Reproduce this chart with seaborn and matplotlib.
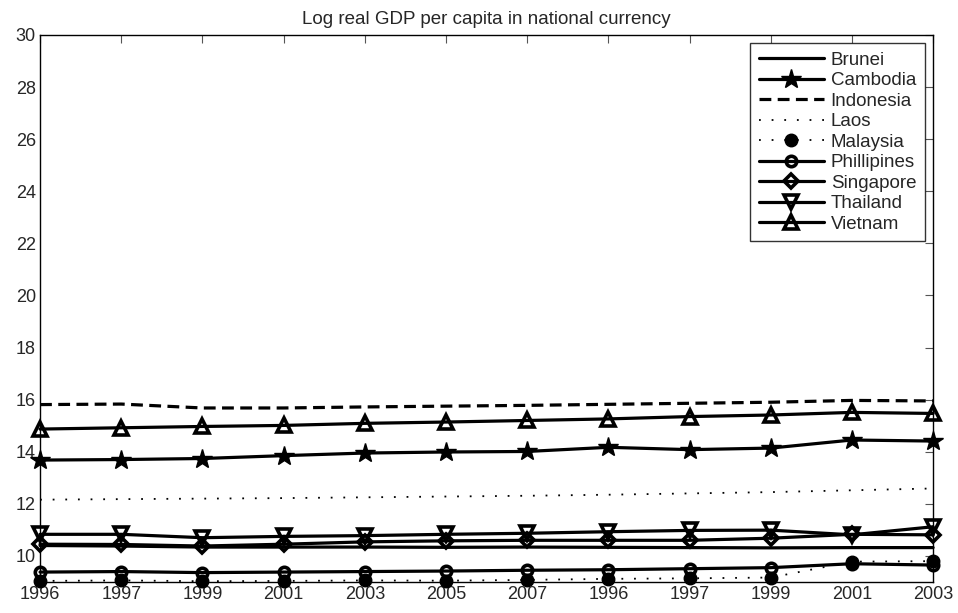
import numpy as np
import pandas as pd
import seaborn as sns
import matplotlib
matplotlib.use("Agg")
import matplotlib.pyplot as plt

# ----------------------------
# DATA
# ----------------------------
year_labels = ["1996", "1997", "1999", "2001", "2003", "2005", "2007",
               "1996", "1997", "1999", "2001", "2003"]

brunei      = [10.40, 10.38, 10.34, 10.34, 10.34, 10.33, 10.34, 10.33, 10.32, 10.31, 10.32, 10.32]
cambodia    = [13.68, 13.70, 13.74, 13.85, 13.95, 13.99, 14.01, 14.17, 14.08, 14.14, 14.45, 14.41]
indonesia   = [15.81, 15.83, 15.68, 15.68, 15.72, 15.75, 15.78, 15.82, 15.86, 15.90, 15.97, 15.95]
laos        = [12.16, 12.18, 12.20, 12.22, 12.25, 12.28, 12.31, 12.35, 12.40, 12.45, 12.52, 12.59]
malaysia    = [9.04, 9.06, 9.03, 9.04, 9.06, 9.05, 9.08, 9.12, 9.14, 9.17, 9.78, 9.80]
phillipines = [9.38, 9.40, 9.36, 9.38, 9.40, 9.42, 9.45, 9.47, 9.51, 9.55, 9.70, 9.65]
singapore   = [10.45, 10.44, 10.38, 10.45, 10.54, 10.58, 10.60, 10.60, 10.60, 10.68, 10.83, 10.81]
thailand    = [10.83, 10.83, 10.70, 10.75, 10.78, 10.83, 10.87, 10.93, 10.98, 10.99, 10.81, 11.12]
vietnam     = [14.87, 14.92, 14.97, 15.01, 15.09, 15.14, 15.20, 15.26, 15.35, 15.41, 15.51, 15.47]

countries = ["Brunei", "Cambodia", "Indonesia", "Laos", "Malaysia",
             "Phillipines", "Singapore", "Thailand", "Vietnam"]
series = [brunei, cambodia, indonesia, laos, malaysia,
          phillipines, singapore, thailand, vietnam]

# style per country: (marker, linestyle, linewidth, marker fill)
styles = {
    "Brunei":      (None, "-", 2.3, "full"),
    "Cambodia":    ("*", "-", 2.3, "full"),
    "Indonesia":   (None, (0, (3.7, 2.0)), 2.3, "full"),
    "Laos":        (None, (0, (1, 6)), 1.3, "full"),
    "Malaysia":    ("o", (0, (1, 6)), 1.3, "full"),
    "Phillipines": ("o", "-", 2.3, "none"),
    "Singapore":   ("D", "-", 2.3, "none"),
    "Thailand":    ("v", "-", 2.3, "none"),
    "Vietnam":     ("^", "-", 2.3, "none"),
}
msizes = {"Cambodia": 15, "Malaysia": 9, "Phillipines": 7.5,
          "Singapore": 7, "Thailand": 10.5, "Vietnam": 10.5}

df = pd.DataFrame({"pos": np.tile(np.arange(len(year_labels)), len(countries)),
                   "value": np.concatenate(series),
                   "country": np.repeat(countries, len(year_labels))})

# ----------------------------
# PLOT
# ----------------------------
sns.set_style("white")
plt.rcParams["font.family"] = ["Liberation Sans", "DejaVu Sans"]

fig = plt.figure(figsize=(9.58, 6.13), dpi=100)
ax = fig.add_axes([0.0418, 0.0506, 0.9322, 0.8924])

for c in countries:
    m, ls, lw, fill = styles[c]
    sub = df[df["country"] == c]
    kw = dict(color="black", linewidth=lw, linestyle=ls, label=c, clip_on=False)
    if m is not None:
        kw.update(marker=m, markersize=msizes[c],
                  markeredgewidth=2.6 if fill == "none" else 1.0,
                  markerfacecolor="black" if fill == "full" else "none",
                  markeredgecolor="black")
    sns.lineplot(data=sub, x="pos", y="value", ax=ax, **kw)

ax.set_xlim(0, len(year_labels) - 1)
ax.set_ylim(9, 30)
ax.set_xticks(range(len(year_labels)))
ax.set_xticklabels(year_labels)
ax.set_yticks(range(10, 31, 2))
ax.set_xlabel("")
ax.set_ylabel("")
ax.tick_params(axis="both", direction="in", length=6, width=0.8,
               color="#555555", labelsize=13, top=True, right=True, pad=3)
for s in ax.spines.values():
    s.set_color("black")
    s.set_linewidth(1.0)
ax.set_title("Log real GDP per capita in national currency", fontsize=13.5, pad=8)

leg = ax.legend(loc="upper right", fontsize=13.5, handlelength=3.5,
                labelspacing=0.18, borderpad=0.45, handletextpad=0.35,
                frameon=True, fancybox=False, borderaxespad=0.45)
leg.get_frame().set_edgecolor("black")
leg.get_frame().set_linewidth(1.0)

fig.savefig("out.png", dpi=100)
plt.close()
